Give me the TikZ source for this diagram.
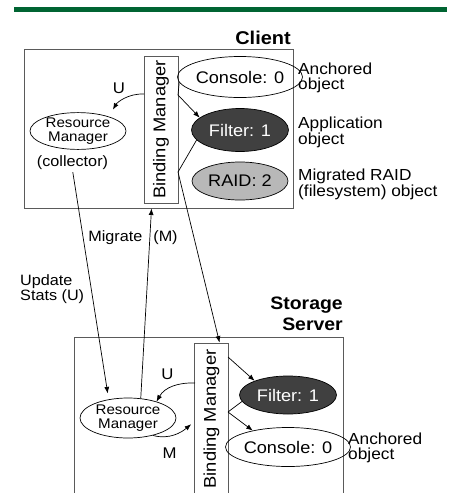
\documentclass[tikz,border=0pt]{standalone}
\usepackage{fontspec}
\setmainfont{Liberation Sans}[FakeStretch=1.08]
\usetikzlibrary{shapes.geometric,arrows.meta}
\definecolor{bargreen}{RGB}{0,100,50}
\definecolor{filterfill}{RGB}{64,64,64}
\definecolor{raidfill}{RGB}{184,184,184}
\definecolor{boxgray}{RGB}{90,90,90}
\tikzset{
  obj/.style={ellipse, draw, line width=0.7pt, inner sep=0pt, font=\fontsize{16.8}{16}\selectfont},
  mgr/.style={ellipse, draw, line width=0.7pt, inner sep=0pt, minimum width=96pt, align=center, font=\fontsize{14}{13.5}\selectfont},
  bind/.style={draw=boxgray, line width=0.9pt, minimum width=34pt, inner sep=0pt, font=\fontsize{17}{17}\selectfont},
  host/.style={draw=boxgray, line width=0.9pt, inner sep=0pt},
  note/.style={align=left, inner sep=0pt, font=\fontsize{16}{14.5}\selectfont},
  tag/.style={inner sep=0pt, font=\fontsize{15.5}{15}\selectfont},
  arr/.style={-{Latex[length=6.5pt,width=5pt]}, line width=0.7pt},
  wire/.style={line width=0.7pt},
}
\begin{document}
\begin{tikzpicture}[x=1pt, y=-1pt]
    \clip (0,0) rectangle (451,493);
    % top bar
    \fill[bargreen] (14,7) rectangle (447,12);

    % Client
    \node[anchor=east, inner sep=0pt, font=\bfseries\fontsize{18.5}{20}\selectfont] (clientname) at (291,38) {Client};
    \node[host, minimum width=269pt, minimum height=159pt] (client) at (158.5,128.5) {};
    \node[bind, minimum height=147pt] (bm1) at (161,129.5) {\rotatebox{90}{Binding Manager}};
    \node[obj, minimum width=95pt, minimum height=41pt] (console1) at (240,77) {Console: 0};
    \node[obj, fill=filterfill, text=white, minimum width=97pt, minimum height=43pt] (filter1) at (240,130) {Filter: 1};
    \node[obj, fill=raidfill, minimum width=96pt, minimum height=38pt] (raid1) at (240,181) {RAID: 2};
    \node[mgr, minimum height=32pt] (rm1) at (78,131) {Resource\\Manager};
    \node[note, font=\fontsize{15}{14}\selectfont] (collector) at (72.5,163) {(collector)};

    \node[note, anchor=west] (anchored1) at (298,78) {Anchored\\object};
    \node[note, anchor=west] (application) at (298,132) {Application\\object};
    \node[note, anchor=west] (migrated) at (298,184) {Migrated RAID\\(filesystem) object};

    % Storage server
    \node[anchor=east, align=right, inner sep=0pt, font=\bfseries\fontsize{18}{21}\selectfont] (servername) at (343,314) {Storage\\Server};
    \node[host, minimum width=269pt, minimum height=170pt] (server) at (208.5,422) {};
    \node[bind, minimum height=152pt] (bm2) at (211.5,419) {\rotatebox{90}{Binding Manager}};
    \node[obj, fill=filterfill, text=white, minimum width=97pt, minimum height=38pt] (filter2) at (288,395) {Filter: 1};
    \node[obj, minimum width=97pt, minimum height=39pt] (console2) at (288,447) {Console: 0};
    \node[mgr, minimum height=40pt] (rm2) at (128,418) {Resource\\Manager};
    \node[note, anchor=west] (anchored2) at (348,448) {Anchored\\object};

    % labels on the links
    \node[tag] (u1) at (119,88) {U};
    \node[tag] (u2) at (167.5,374.5) {U};
    \node[tag] (m2) at (169.5,453.5) {M};
    \node[note, font=\fontsize{15}{14}\selectfont] (migrate) at (133,238) {Migrate\hspace{11pt}(M)};
    \node[note, anchor=west, font=\fontsize{15}{13}\selectfont] (update) at (20,289.5) {Update\\Stats (U)};

    % points on the binding managers
    \coordinate (bm1a) at (178,95);
    \coordinate (bm1b) at (144,94);
    \coordinate (bm1c) at (178,172);
    \coordinate (bm2a) at (195,383);
    \coordinate (bm2b) at (195,421);
    \coordinate (bm2c) at (228,357);
    \coordinate (bm2d) at (228,412);

    % client links
    \draw[wire] (console1.185) -- (bm1a);
    \draw[arr] (bm1a) -- (filter1.163);
    \draw[arr, shorten >=8pt] (bm1b) to[out=178,in=60] (rm1.25);
    \draw[wire] (filter1.193) -- (bm1c);
    \draw[arr] (bm1c) -- (bm2.84);

    % between the hosts
    \draw[arr, shorten <=2pt, shorten >=6pt] (collector.south) -- (rm2.136);
    \draw[arr] (rm2.57) -- (client.265);

    % server links
    \draw[arr] (bm2a) to[out=178,in=60] (rm2.30);
    \draw[arr, shorten >=5pt] (rm2.-35) to[out=-15,in=220] (bm2b);
    \draw[arr] (bm2c) -- (filter2.157);
    \draw[wire] (filter2.188) -- (bm2d);
    \draw[arr] (bm2d) -- (console2.155);
\end{tikzpicture}
\end{document}
